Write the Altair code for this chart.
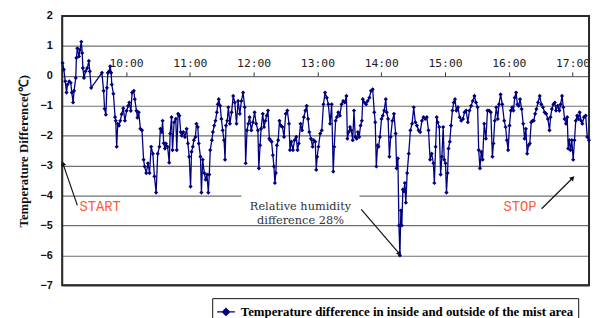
import altair as alt
import pandas as pd

# minutes after 9:00
minutes = [
    0.3, 1.5, 2.8, 4.0, 4.9, 6.5, 8.0, 9.0, 10.2, 11.1,
    12.7, 13.3, 14.2, 15.7, 16.7, 17.9, 18.8, 19.4, 20.4, 21.9,
    23.5, 25.0, 25.9, 27.2, 37.3, 38.9, 39.8, 41.0, 42.0, 42.9,
    44.1, 45.1, 46.0, 46.6, 48.1, 49.7, 50.3, 51.2, 52.2, 53.4,
    54.6, 55.9, 57.4, 58.9, 60.5, 62.0, 63.0, 64.5, 65.7, 67.3,
    68.2, 69.8, 70.7, 71.9, 73.5, 75.0, 76.5, 77.5, 79.0, 80.6,
    82.1, 83.6, 85.2, 86.7, 88.3, 89.8, 91.4, 92.3, 93.5, 94.4,
    95.4, 96.6, 97.5, 99.1, 100.6, 101.5, 102.8, 103.7, 105.2, 106.8,
    107.7, 109.0, 110.2, 111.4, 112.4, 113.9, 115.4, 117.0, 118.2, 119.4,
    120.7, 121.6, 122.8, 123.8, 125.3, 126.2, 127.5, 128.4, 130.0, 130.9,
    132.1, 133.6, 134.9, 136.1, 137.4, 138.3, 139.2, 140.7, 141.7, 142.9,
    144.1, 145.4, 146.3, 147.2, 148.5, 149.7, 150.9, 152.2, 153.1, 154.0,
    155.2, 156.2, 157.7, 159.3, 160.8, 162.3, 163.9, 165.4,
    167.0, 168.5, 170.1, 171.6, 172.5, 173.8, 175.0, 176.2, 177.8, 179.3,
    180.9, 182.4, 184.0, 184.9, 186.1, 187.0, 188.6, 189.8, 191.1, 192.3,
    193.5, 194.8, 195.7, 196.9, 198.1, 199.1, 200.0, 200.9, 201.9, 203.1,
    204.3, 205.6, 207.1, 208.6, 210.2, 211.7, 213.3, 214.2, 215.4, 217.0,
    218.5, 220.1, 221.3, 222.5, 224.1, 225.6, 227.2, 228.7, 229.9, 231.2,
    232.4, 233.9, 235.5, 236.4, 238.0, 238.9, 239.8, 241.0, 242.6, 244.1,
    245.7, 247.2,
    248.8, 250.3, 251.9, 253.4, 254.9, 255.9, 257.1, 258.3, 259.6, 261.1,
    262.7, 264.2, 265.7, 267.3, 268.2, 269.4, 270.7, 271.9, 273.2, 274.4,
    275.6, 276.9, 278.1, 279.3, 280.6, 281.8, 282.7, 284.3, 285.8, 287.3,
    288.9, 290.4, 292.0, 293.5, 294.4, 295.4, 296.6, 297.5, 298.8, 300.3,
    301.5, 302.8, 304.3, 305.2, 306.5, 307.7, 308.9, 310.5, 312.0, 313.6,
    314.5, 315.7, 316.7, 317.6, 318.5, 319.4, 320.4, 321.3, 322.2, 323.2,
    324.4, 325.9, 327.5, 329.0, 330.6,
    332.1, 333.6, 335.2, 336.7, 338.3, 339.8, 341.4, 342.9, 344.5, 346.0,
    347.5, 349.1, 350.0, 351.2, 352.2, 353.1, 354.6, 355.9, 357.1, 358.3,
    359.3, 360.5, 361.4, 362.4, 363.3, 364.5, 365.7, 367.0, 368.2, 369.4,
    370.7, 372.2, 373.8, 375.3, 376.9, 378.4, 379.9, 381.5, 383.0, 384.6,
    386.1, 387.7, 389.2, 390.7, 391.7, 392.9, 394.1, 395.4, 396.9, 398.5,
    400.0, 401.5, 403.1, 404.6, 405.6, 406.8, 408.3, 409.6, 410.8, 412.3,
    413.9,
    415.7, 417.0, 418.2, 419.4, 420.7, 421.9, 423.2, 424.4, 425.6, 426.9,
    428.1, 429.3, 430.6, 432.1, 433.6, 434.9, 436.1, 437.3, 438.6, 439.8,
    441.1, 442.3, 443.5, 444.8, 446.0, 447.5, 449.1, 450.6, 452.2, 453.7,
    455.2, 456.8, 458.3, 459.3, 460.5, 462.0, 463.3, 464.5, 466.1, 467.6,
    468.8, 470.1, 471.3, 472.5, 473.8, 475.0, 475.9, 476.9, 478.1, 479.3,
    480.6, 481.8, 483.0, 484.3, 485.5, 486.7, 488.0, 489.2, 490.7, 492.3,
    493.8, 495.4,
]

temp_diff = [
    0.43, 0.21, -0.18, -0.56, -0.29, -0.18, -0.23, -0.56, -0.89, -0.5,
    -0.07, 0.6, 0.92, 0.65, 0.87, 1.14, 0.76, 0.26, -0.07, 0.15,
    0.26, 0.5, 0.15, -0.4, 0.1, -0.5, -1.1, -1.3, -0.4, 0.1,
    0.15, 0.32, 0.1, -0.29, -0.6, -1.38, -1.5, -2.37, -1.6, -1.66,
    -1.5, -1.28, -1.08, -1.5, -1.17, -1.0, -0.89, -1.17, -0.56, -0.5,
    -0.78, -1.17, -1.4, -1.22, -1.77, -1.82, -2.8, -3.03, -3.25, -2.92,
    -3.25, -2.37, -2.6, -3.36, -3.9, -2.6, -2.37, -1.77, -1.88, -1.5,
    -2.25, -2.43, -2.26, -2.37, -2.9, -1.93, -1.38, -2.48, -1.55, -1.44,
    -2.48, -1.27, -1.33, -1.88, -2.0, -1.88, -2.04, -1.77, -2.26, -2.7,
    -3.7, -2.54, -2.37, -2.15, -2.04, -1.6, -1.71, -2.26, -2.7, -3.9,
    -2.8, -3.25, -3.47, -3.3, -3.9, -3.3, -2.48, -2.15, -1.88, -1.66,
    -1.5, -1.22, -0.95, -0.78, -1.0, -1.44, -1.82, -2.15, -2.8, -1.66,
    -1.5, -1.05, -1.6, -1.22, -0.67, -0.89, -1.6, -0.84,
    -1.27, -0.84, -0.56, -1.05, -2.92, -1.82, -1.6, -1.38, -1.82, -1.55,
    -1.22, -1.6, -1.82, -3.09, -2.32, -1.77, -1.27, -1.71, -1.5, -1.33,
    -1.16, -2.1, -2.15, -2.2, -2.65, -3.03, -3.58, -3.25, -2.32, -2.15,
    -1.5, -1.66, -1.71, -2.04, -1.27, -1.16, -1.6, -2.48, -2.2, -2.48,
    -2.15, -2.04, -2.48, -2.26, -1.6, -1.82, -1.38, -1.16, -1.0, -1.44,
    -1.88, -2.1, -2.37, -2.15, -2.2, -3.14, -2.7, -2.37, -1.93, -1.82,
    -0.95, -0.56,
    -0.73, -0.95, -1.6, -0.95, -3.2, -2.37, -1.5, -1.38, -1.22, -1.33,
    -0.95, -0.84, -0.89, -0.67, -2.1, -1.88, -1.71, -1.82, -2.15, -1.16,
    -2.04, -2.1, -1.88, -2.04, -1.66, -1.5, -0.78, -0.89, -0.95, -0.84,
    -0.73, -0.5, -0.45, -1.22, -1.55, -3.03, -2.32, -2.37, -2.04, -1.44,
    -1.33, -1.16, -0.78, -1.22, -1.44, -2.7, -2.04, -1.5, -1.27, -1.93,
    -3.09, -2.76, -5.0, -6.0, -4.5, -5.0, -3.8, -3.86, -3.58, -4.24,
    -3.25, -2.6, -1.82, -1.6, -1.05,
    -1.55, -1.66, -1.82, -1.88, -1.5, -1.38, -1.44, -1.38, -1.82, -2.8,
    -2.6, -2.92, -3.58, -2.37, -1.38, -1.55, -1.71, -3.3, -2.7, -1.71,
    -2.8, -2.92, -3.9, -3.25, -2.43, -2.2, -1.66, -1.16, -0.89, -0.78,
    -1.16, -1.05, -1.38, -1.5, -1.44, -1.22, -1.16, -1.55, -1.16, -1.0,
    -0.84, -0.67, -0.89, -1.05, -2.48, -3.09, -2.54, -2.8, -1.6, -2.1,
    -1.16, -1.16, -1.22, -2.7, -2.26, -1.5, -1.05, -1.44, -0.95, -0.62,
    -0.95,
    -1.5, -1.71, -2.15, -2.48, -1.66, -1.16, -1.05, -1.16, -0.73, -0.56,
    -0.95, -1.0, -0.78, -1.11, -1.6, -2.1, -1.77, -2.6, -2.32, -2.26,
    -1.55, -1.5, -1.5, -1.27, -1.11, -0.89, -0.67, -0.95, -1.05, -1.22,
    -1.27, -1.44, -1.82, -1.38, -1.11, -0.95, -0.89, -1.16, -1.0, -1.16,
    -0.95, -0.67, -1.05, -1.44, -1.6, -1.38, -2.43, -2.15, -2.48, -2.15,
    -2.8, -2.15, -1.5, -1.33, -1.44, -1.22, -1.5, -1.6, -1.38, -1.33,
    -2.04, -2.15,
]

series_name = "Temperature difference in inside and outside of the mist area"
hour_ticks = [60, 120, 180, 240, 300, 360, 420, 480]
y_ticks = [2, 1, 0, -1, -2, -3, -4, -5, -6, -7]
x_domain = [0, 495.5]
y_domain = [-7, 2]

tag_text = ["START", "STOP"]
tag_minute = [35.6, 430.6]
tag_temp = [-4.39, -4.37]

note_text = ["Relative humidity\ndifference 28%"]
note_minute = [224.1]
note_temp = [-4.40]

arrow_from_minute = [14.2, 281.2, 450.9]
arrow_from_temp = [-4.33, -4.46, -4.44]
arrow_to_minute = [0.8, 316.8, 479.6]
arrow_to_temp = [-2.95, -5.93, -3.43]
arrow_angle = [341.6, 140.3, 44.7]

n = min(len(minutes), len(temp_diff))
df = pd.DataFrame({"minute": minutes[:n], "temp": temp_diff[:n], "series": series_name})
tags = pd.DataFrame({"minute": tag_minute, "temp": tag_temp, "label": tag_text})
notes = pd.DataFrame({"minute": note_minute, "temp": note_temp, "label": note_text})
arrows = pd.DataFrame({
    "minute": arrow_to_minute, "temp": arrow_to_temp,
    "minute_from": arrow_from_minute, "temp_from": arrow_from_temp,
    "angle": arrow_angle,
})
box = pd.DataFrame({"minute": [168.5], "minute2": [279.6], "temp": [-3.74], "temp2": [-4.86]})
frame = pd.DataFrame({"minute": [x_domain[0]], "minute2": [x_domain[1]],
                      "temp": [y_domain[0]], "temp2": [y_domain[1]]})

X = alt.X(
    "minute:Q",
    scale=alt.Scale(domain=x_domain, nice=False, zero=False),
    axis=alt.Axis(
        orient="top", values=hour_ticks, labelExpr="(9 + datum.value / 60) + ':00'",
        offset=-60.67, grid=False, domain=False, ticks=True, tickSize=4,
        tickColor="#333333", labelFont="DejaVu Sans Mono", labelFontSize=11.5,
        labelColor="#222222", labelPadding=3, title=None,
    ),
)
Y = alt.Y(
    "temp:Q",
    scale=alt.Scale(domain=y_domain, nice=False, zero=False),
    axis=alt.Axis(
        values=y_ticks, grid=True, gridColor="#707070", gridWidth=1.2,
        domain=False, ticks=False, labelPadding=10, labelFont="Liberation Sans",
        labelFontWeight="bold", labelFontSize=11, labelColor="#111111",
        title="Temperature Difference(℃)", titleFont="Liberation Serif",
        titleFontSize=13, titleFontWeight="bold", titleColor="#111111",
        titleX=-39, titleY=136.5, titleAngle=270, titleAlign="center",
        titleBaseline="middle",
    ),
)

base = alt.Chart(df)

line = base.mark_line(strokeWidth=1.3).encode(
    x=X, y=Y,
    color=alt.Color(
        "series:N", scale=alt.Scale(range=["#000080"]),
        legend=alt.Legend(
            orient="none", legendX=152, legendY=286, title=None,
            strokeColor="#111111", fillColor="white", padding=4,
            symbolType="M-1,0H1M0,-0.4L0.4,0L0,0.4L-0.4,0Z", symbolSize=324,
            symbolStrokeWidth=1.2, symbolFillColor="#000080",
            labelFont="Liberation Serif", labelFontSize=13,
            labelFontWeight="bold", labelColor="#000000", labelOffset=5,
            labelLimit=500,
        ),
    ),
)
points = base.mark_point(shape="diamond", filled=True, size=18, color="#000080", opacity=1).encode(x=X, y=Y)

frame_layer = alt.Chart(frame).mark_rect(
    filled=False, stroke="#2a2a2a", strokeWidth=2
).encode(x=X, x2="minute2:Q", y=Y, y2="temp2:Q")

white_box = alt.Chart(box).mark_rect(color="white").encode(x=X, x2="minute2:Q", y=Y, y2="temp2:Q")

note_layer = alt.Chart(notes).mark_text(
    font="DejaVu Serif", fontSize=11.5, lineBreak="\n", lineHeight=13.3,
    align="center", baseline="middle", color="#333333",
).encode(x=X, y=Y, text="label:N")

tag_layer = alt.Chart(tags).mark_text(
    font="Liberation Mono", fontSize=14, align="center", baseline="middle", color="#ff5a3c",
).encode(x=X, y=Y, text="label:N")

arrow_lines = alt.Chart(arrows).mark_rule(color="#111111", strokeWidth=1.2).encode(
    x=X, y=Y, x2="minute_from:Q", y2="temp_from:Q"
)
arrow_heads = alt.Chart(arrows).mark_point(shape="triangle", filled=True, size=30, color="#111111", opacity=1).encode(
    x=X, y=Y, angle=alt.Angle("angle:Q", scale=None)
)

chart = alt.layer(
    white_box, frame_layer, arrow_lines, arrow_heads, note_layer, tag_layer, line, points
).properties(
    width=534, height=273,
    padding={"left": 55, "top": 6, "right": 3, "bottom": 31},
    autosize="none",
).configure(
    background="white",
    view=alt.ViewConfig(stroke="#333333", strokeWidth=1.5),
)

chart.save("out.html", embed_options={"renderer": "svg", "actions": False})
